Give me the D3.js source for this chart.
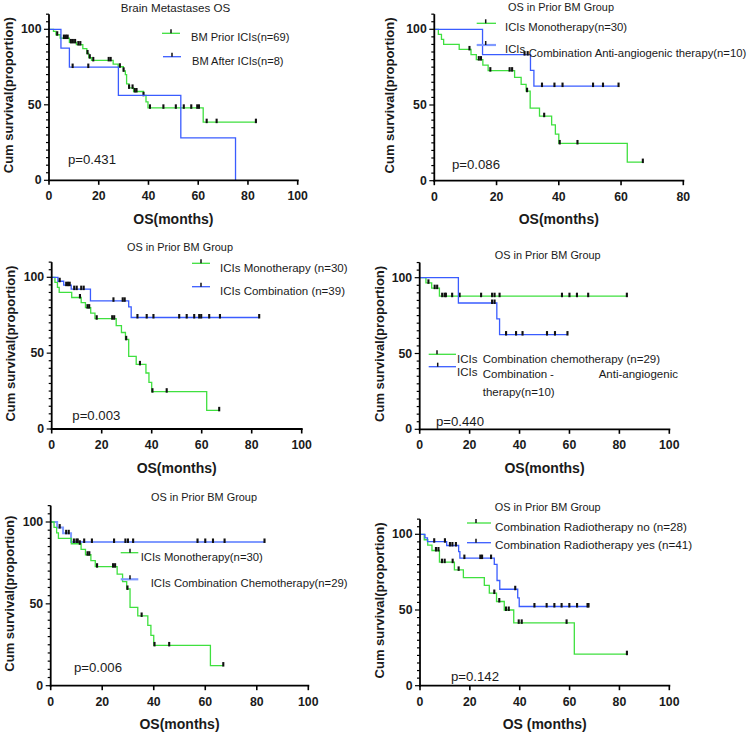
<!DOCTYPE html>
<html><head><meta charset="utf-8">
<script src="https://cdn.jsdelivr.net/npm/d3@7"></script>
<style>body{margin:0;background:#fff} text{font-family:"Liberation Sans",Arial,sans-serif;fill:#1a1a1a}</style>
</head><body><svg id="c" width="753" height="734"></svg>
<script>
// ---------- DATA (time in months, survival in %) ----------
const priorSteps = [[1.8,98.6],[2.8,96.4],[4.5,94.2],[8.2,91.3],[11,89.9],[13.6,87.2],[15.2,84],[16,81.2],[17.1,79.4],[25.8,77],[27.8,75.2],[29.9,72.5],[30.7,70],[31.2,63.8],[32.2,61.2],[34,58.8],[38,56.3],[39,52],[39.8,48],[62,38.5]];
const priorCensor = [3.3,6,6.8,7.5,8.8,9.6,10.5,11.8,12.6,15.5,16.4,17.8,24,24.8,28.5,30,32.2,33.6,34.5,35.2,38,40.6,46,51,54.2,57.2,59.6,60.3,63.4,67.4,83.2];
const afterSteps = [[4.8,87.5],[8.2,75],[27.9,56.25],[53,28.1],[75,0]];
const afterCensor = [9.5,15.8];
const monoSteps = [[1.3,96.7],[2.3,93.3],[3,90],[8,86.7],[11.8,83.3],[13.5,80],[15.6,76.4],[17.3,72.7],[25.8,68.2],[27.9,63.6],[29.5,59.1],[30.8,47.9],[33.8,42.6],[37.7,36.9],[38.9,30.7],[40,24.6],[62,12.3]];
const monoCensor = [11.3,14.3,15,18,24.2,25,29.8,35.3,40.3,46,67];
const combSteps = [[2.5,97.4],[4.8,94.8],[7.8,92.2],[15.5,84.5],[30.8,80.5],[31.8,73.5]];
const combCensor = [3.2,5.8,6.5,7.2,9,10,11.8,12.8,24.7,28.4,29.2,34.3,38,40.7,51,54,57,59,59.8,63,67.3,83];
const chemoSteps = [[2.5,96.6],[4.8,93.1],[7.9,87.8]];
const chemoCensor = [3.5,6,7,9,10,10.5,13,16,24.6,29,30,32,57,60,63,67.5,83];
const antiSteps = [[15.5,83.3],[30.9,72.9],[32,62.5]];
const antiCensor = [29,30,34.6,38.6,41.2,51,54.2,59.2];
const rtNoSteps = [[1.7,96.4],[3.1,92.9],[4.8,89.3],[7.8,81.6],[13.8,76.5],[17.4,71.4],[25.8,66.3],[27.8,61.2],[30.7,55.6],[33.8,50],[37.6,41.5],[61.9,20.8]];
const rtNoCensor = [6.4,7.4,8.8,9.9,13.1,15.5,29.8,31.8,34.5,35.6,39.6,40.8,58.8,83];
const rtYesSteps = [[2,97.6],[3,95.1],[10.7,92.6],[15.5,88.5],[16,84.3],[29.8,80.2],[30.9,69.5],[32,63.7],[39.2,58],[39.8,52.3]];
const rtYesCensor = [5.7,10,12,13,14.4,17.8,24.2,24.9,28.5,38.2,45.9,50.8,53.9,56.8,59.9,63,67.2,67.6];

const xTicks100 = [0,20,40,60,80,100];
const xTicks80 = [0,20,40,60,80];
const yTicks = [0,50,100];
const yMinor = d3.range(0,111,5);
const titles = ["Brain Metastases OS","OS in Prior BM Group","OS in Prior BM Group","OS in Prior BM Group","OS in Prior BM Group","OS in Prior BM Group"];
const pValues = ["p=0.431","p=0.086","p=0.003","p=0.440","p=0.006","p=0.142"];
const xLabels = ["OS(months)","OS(months)","OS(months)","OS(months)","OS(months)","OS (months)"];
const yLabel = "Cum survival(proportion)";

const GREEN = "#3fe03f", BLUE = "#3a5cff", LBLUE = "#7f99ff";

// ---------- LAYOUT ----------
const panels = [
 {x0:49,xr:297.7,dom:100,xt:xTicks100,y0:180.3,y100:29.3,tx:175.5,ty:7,ts:11.6,ylx:8.5,px:68,py:159,
  curves:[{s:priorSteps,c:priorCensor,col:GREEN,w:1.3},{s:afterSteps,c:afterCensor,col:BLUE,w:1.3}],
  legend:[{x1:162,x2:180,y:33.3,tk:171,col:GREEN,w:1.3},{x1:163,x2:181,y:56.7,tk:172,col:BLUE,w:1.3}],
  texts:[{t:"BM Prior ICIs(n=69)",x:191,y:37,s:11.1},{t:"BM After ICIs(n=8)",x:192,y:61,s:11.1}]},
 {x0:434.3,xr:683.3,dom:80,xt:xTicks80,y0:180.7,y100:29.3,tx:561,ty:6.7,ts:10.9,ylx:389,px:452,py:164,
  curves:[{s:monoSteps,c:monoCensor,col:GREEN,w:1.3},{s:antiSteps,c:antiCensor,col:BLUE,w:1.3}],
  legend:[{x1:476.7,x2:496,y:23.3,tk:485.7,col:GREEN,w:1.3},{x1:476.7,x2:496,y:45,tk:485.7,col:LBLUE,w:2.2}],
  texts:[{t:"ICIs Monotherapy(n=30)",x:505,y:26.7,s:11.3},{t:"ICIs",x:505,y:49.3,s:11.3},{t:"Combination Anti-angiogenic therapy(n=10)",x:528.7,y:52.7,s:11.3}]},
 {x0:51.7,xr:301.7,dom:100,xt:xTicks100,y0:429,y100:277.3,tx:180,ty:247.3,ts:10.9,ylx:10,px:72.3,py:415,
  curves:[{s:monoSteps,c:monoCensor,col:GREEN,w:1.3},{s:combSteps,c:combCensor,col:BLUE,w:1.3}],
  legend:[{x1:192,x2:210,y:263.3,tk:201,col:GREEN,w:1.3},{x1:192,x2:210,y:286.7,tk:201,col:BLUE,w:1.3}],
  texts:[{t:"ICIs Monotherapy (n=30)",x:220,y:268.3,s:11.5},{t:"ICIs Combination (n=39)",x:220,y:290.7,s:11.5}]},
 {x0:419.7,xr:669.3,dom:100,xt:xTicks100,y0:429.3,y100:277.7,tx:547.7,ty:255,ts:10.9,ylx:379.3,px:436,py:421,
  curves:[{s:chemoSteps,c:chemoCensor,col:GREEN,w:1.3},{s:antiSteps,c:antiCensor,col:BLUE,w:1.3}],
  legend:[{x1:428.7,x2:456,y:354.3,tk:437,col:GREEN,w:1.3},{x1:428.7,x2:456,y:366.7,tk:437.7,col:BLUE,w:1.3}],
  texts:[{t:"ICIs",x:457,y:359,s:11.5},{t:"Combination chemotherapy (n=29)",x:482.7,y:359,s:11.5},
         {t:"ICIs",x:457,y:372.3,s:11.5},{t:"Combination",x:482.7,y:373.5,s:11.5},{t:"-",x:550,y:373.5,s:11.5},
         {t:"Anti-angiogenic",x:598.7,y:373.5,s:11.5},{t:"therapy(n=10)",x:482.7,y:392.3,s:11.5}]},
 {x0:50.7,xr:308.3,dom:100,xt:xTicks100,y0:685.7,y100:522,tx:204,ty:496.7,ts:10.9,ylx:9,px:74,py:667.3,
  curves:[{s:chemoSteps,c:chemoCensor,col:LBLUE,w:2},{s:monoSteps,c:monoCensor,col:GREEN,w:1.3}],
  legend:[{x1:120.7,x2:138.3,y:552.7,tk:130,col:GREEN,w:1.3},{x1:120.7,x2:138.3,y:579.3,tk:130,col:LBLUE,w:2.2}],
  texts:[{t:"ICIs Monotherapy(n=30)",x:140.7,y:556.7,s:11.3},{t:"ICIs Combination Chemotherapy(n=29)",x:150.7,y:583.3,s:11.3}]},
 {x0:420,xr:669.3,dom:100,xt:xTicks100,y0:685.7,y100:534.3,tx:547.7,ty:507.3,ts:10.9,ylx:379.3,px:451,py:676,
  curves:[{s:rtNoSteps,c:rtNoCensor,col:GREEN,w:1.3},{s:rtYesSteps,c:rtYesCensor,col:BLUE,w:1.3}],
  legend:[{x1:467,x2:491,y:523,tk:476,col:GREEN,w:1.3},{x1:467,x2:491,y:542.7,tk:476,col:BLUE,w:1.3}],
  texts:[{t:"Combination Radiotherapy no (n=28)",x:495,y:526.7,s:11.7},{t:"Combination Radiotherapy yes (n=41)",x:495,y:544.3,s:11.7}]}
];

const svg = d3.select("#c");
function survAt(steps,t){let s=100;for(const [tt,v] of steps) if(tt<=t) s=v;return s;}

panels.forEach((p,i)=>{
  const x = d3.scaleLinear().domain([0,p.dom]).range([p.x0,p.xr]);
  const y = d3.scaleLinear().domain([0,100]).range([p.y0,p.y100]);
  const g = svg.append("g");

  // curves
  p.curves.forEach(cv=>{
    const last = cv.s[cv.s.length-1];
    const end = Math.max(last[0], d3.max(cv.c));
    const pts = [[0,100],...cv.s,[end,survAt(cv.s,end)]];
    const line = d3.line().x(d=>x(d[0])).y(d=>y(d[1])).curve(d3.curveStepAfter);
    g.append("path").attr("d",line(pts)).attr("fill","none").attr("stroke",cv.col).attr("stroke-width",cv.w);
    g.selectAll(null).data(cv.c).enter().append("line")
      .attr("x1",d=>x(d)).attr("x2",d=>x(d))
      .attr("y1",d=>y(survAt(cv.s,d))-3.5).attr("y2",d=>y(survAt(cv.s,d))+1)
      .attr("stroke","#111").attr("stroke-width",2.1);
  });

  // y axis
  const yTop = y(110);
  g.append("line").attr("x1",p.x0).attr("x2",p.x0).attr("y1",p.y0+1).attr("y2",yTop).attr("stroke","#000").attr("stroke-width",1.8);
  g.selectAll(null).data(yMinor).enter().append("line")
    .attr("x1",d=>p.x0-(yTicks.includes(d)?5:3)).attr("x2",p.x0)
    .attr("y1",d=>y(d)).attr("y2",d=>y(d)).attr("stroke","#000").attr("stroke-width",1.2);
  g.selectAll(null).data(yTicks).enter().append("text")
    .attr("x",p.x0-7.5).attr("y",d=>y(d)).attr("text-anchor","end").attr("dominant-baseline","central")
    .attr("font-size",12.3).attr("font-weight","bold").text(d=>d);

  // x axis
  g.append("line").attr("x1",p.x0-1).attr("x2",p.xr+1).attr("y1",p.y0).attr("y2",p.y0).attr("stroke","#000").attr("stroke-width",1.8);
  g.selectAll(null).data(p.xt).enter().append("line")
    .attr("x1",d=>x(d)).attr("x2",d=>x(d)).attr("y1",p.y0).attr("y2",p.y0+4.5).attr("stroke","#000").attr("stroke-width",1.6);
  g.selectAll(null).data(p.xt).enter().append("text")
    .attr("x",d=>x(d)).attr("y",p.y0+16).attr("text-anchor","middle").attr("dominant-baseline","central")
    .attr("font-size",12.3).attr("font-weight","bold").text(d=>d);

  // labels
  g.append("text").attr("x",(p.x0+p.xr)/2).attr("y",p.y0+38.5).attr("text-anchor","middle").attr("dominant-baseline","central")
    .attr("font-size",14).attr("font-weight","bold").text(xLabels[i]);
  const yc = (p.y0+yTop)/2-2;
  g.append("text").attr("transform",`translate(${p.ylx},${yc}) rotate(-90)`).attr("text-anchor","middle").attr("dominant-baseline","central")
    .attr("font-size",13).attr("font-weight","bold").text(yLabel);
  g.append("text").attr("x",p.tx).attr("y",p.ty).attr("text-anchor","middle").attr("dominant-baseline","central")
    .attr("font-size",p.ts).text(titles[i]);
  g.append("text").attr("x",p.px).attr("y",p.py).attr("dominant-baseline","central")
    .attr("font-size",13.2).text(pValues[i]);

  // legend
  p.legend.forEach(l=>{
    g.append("line").attr("x1",l.x1).attr("x2",l.x2).attr("y1",l.y).attr("y2",l.y).attr("stroke",l.col).attr("stroke-width",l.w);
    g.append("line").attr("x1",l.tk).attr("x2",l.tk).attr("y1",l.y-4).attr("y2",l.y).attr("stroke","#111").attr("stroke-width",1.5);
  });
  p.texts.forEach(t=>{
    g.append("text").attr("x",t.x).attr("y",t.y).attr("dominant-baseline","central").attr("font-size",t.s).text(t.t);
  });
});
</script></body></html>
